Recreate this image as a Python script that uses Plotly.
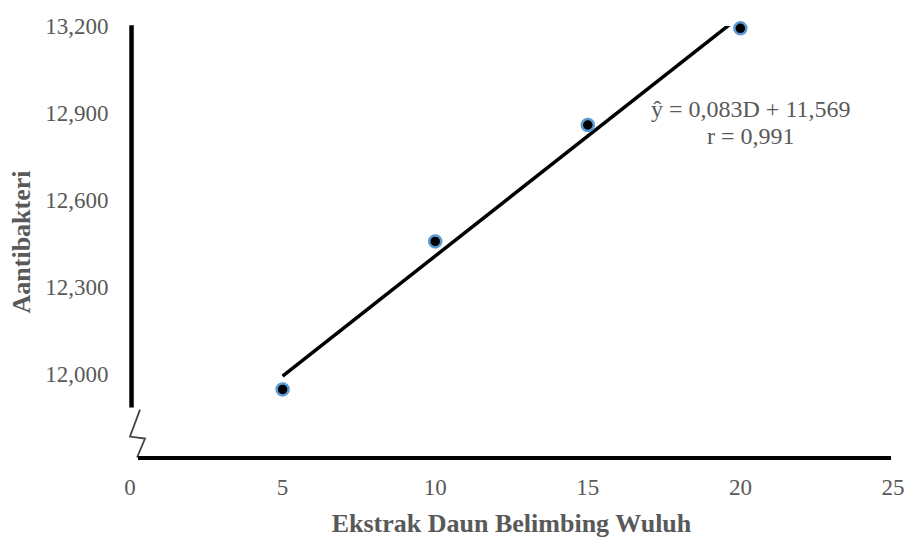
import numpy as np
import plotly.graph_objects as go

# Data
ekstrak = [5, 10, 15, 20]
antibakteri = [11948, 12458, 12859, 13192]
x_ticks = [0, 5, 10, 15, 20, 25]
y_ticks = [12000, 12300, 12600, 12900, 13200]
equation_lines = ["ŷ = 0,083D + 11,569", "r = 0,991"]
x_title = "Ekstrak Daun Belimbing Wuluh"
y_title = "Aantibakteri"

# Linear trend from the data
slope, intercept = np.polyfit(ekstrak, antibakteri, 1)
trend_x = [min(ekstrak), max(ekstrak)]
trend_y = [intercept + slope * v for v in trend_x]

FONT = "Liberation Serif, Times New Roman, serif"
GREY = "#595959"

fig = go.Figure()
fig.add_trace(go.Scatter(
    x=trend_x, y=trend_y, mode="lines",
    line=dict(color="black", width=3.5),
    hoverinfo="skip", showlegend=False,
))
fig.add_trace(go.Scatter(
    x=ekstrak, y=antibakteri, mode="markers",
    marker=dict(size=12, color="black", line=dict(color="#5B9BD5", width=2.5)),
    cliponaxis=False, showlegend=False,
))

# axis decorations (paper coordinates): y-axis line, break zigzag, x-axis line
shapes = [
    dict(type="line", xref="paper", yref="paper", x0=0.002, x1=0.002, y0=1.002, y1=0.117,
         line=dict(color="black", width=4.5)),
    dict(type="path", xref="paper", yref="paper",
         path="M 0.0131 0.1121 L 0 0.0497 L 0.0197 0.0451 L 0.0092 0.0012",
         line=dict(color="#444444", width=1.8)),
    dict(type="line", xref="paper", yref="paper", x0=0.0105, x1=0.9974, y0=0, y1=0,
         line=dict(color="black", width=4)),
]

annotations = [
    dict(x=0.8145, y=yy, xref="paper", yref="paper", xanchor="center", yanchor="middle",
         text=txt, showarrow=False, font=dict(family=FONT, color=GREY, size=24))
    for txt, yy in zip(equation_lines, [0.808, 0.7457])
]

fig.update_layout(
    width=906, height=538,
    margin=dict(l=130, r=13, t=26, b=79.5),
    paper_bgcolor="white", plot_bgcolor="white",
    font=dict(family=FONT, color=GREY, size=23),
    shapes=shapes,
    annotations=annotations,
    xaxis=dict(
        range=[0, 25], tickvals=x_ticks, showgrid=False, zeroline=False, showline=False,
        ticks="outside", ticklen=8, tickcolor="rgba(0,0,0,0)", automargin=False,
        tickfont=dict(family=FONT, color=GREY, size=23),
        title=dict(text="<b>" + x_title + "</b>", standoff=15,
                   font=dict(family=FONT, color=GREY, size=26)),
    ),
    yaxis=dict(
        range=[11712, 13200], tickvals=y_ticks, tickformat=",d",
        showgrid=False, zeroline=False, showline=False,
        ticks="outside", ticklen=16, tickcolor="rgba(0,0,0,0)", automargin=False,
        tickfont=dict(family=FONT, color=GREY, size=23),
        title=dict(text="<b>" + y_title + "</b>", standoff=7,
                   font=dict(family=FONT, color=GREY, size=26)),
    ),
)

fig.write_html("out.html", config={"displayModeBar": False},
               post_script="document.body.style.margin='0';")
